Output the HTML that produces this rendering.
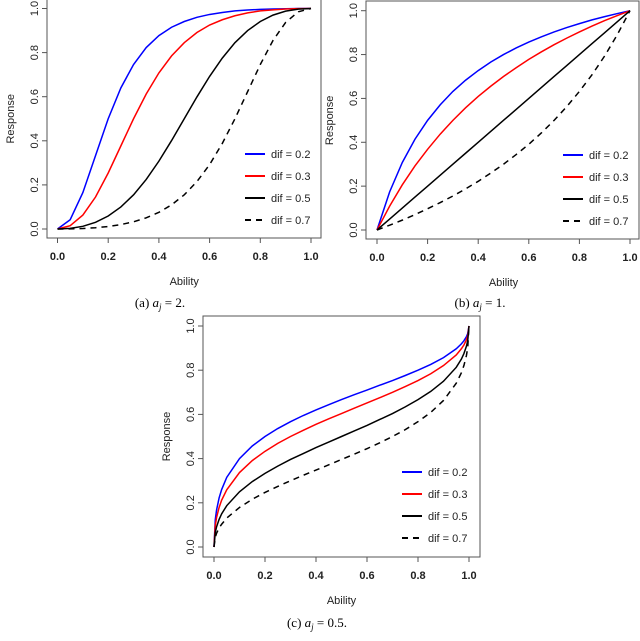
<!DOCTYPE html>
<html><head><meta charset="utf-8"><style>
body{margin:0;background:#fff;width:640px;height:641px;overflow:hidden}
svg{position:absolute;left:0;top:0}
text{font-family:"Liberation Sans",sans-serif}
.cap{font-family:"Liberation Serif",serif;font-size:13px}
</style></head><body>
<svg id="chart" width="640" height="641"></svg>
<script>
const difLabels=["dif = 0.2","dif = 0.3","dif = 0.5","dif = 0.7"];
const tickLabels=["0.0","0.2","0.4","0.6","0.8","1.0"];
const xGridAB=[0,0.05,0.1,0.15,0.2,0.25,0.3,0.35,0.4,0.45,0.5,0.55,0.6,0.65,0.7,0.75,0.8,0.85,0.9,0.95,1];
const xGridC=[0,0.005,0.01,0.02,0.03,0.05,0.1,0.15,0.2,0.25,0.3,0.35,0.4,0.45,0.5,0.55,0.6,0.65,0.7,0.75,0.8,0.85,0.9,0.95,0.97,0.98,0.99,0.995,1];
// panel a (a_j = 2)
const a_dif02=[0,0.042,0.165,0.333,0.5,0.64,0.746,0.823,0.877,0.915,0.941,0.96,0.973,0.982,0.989,0.993,0.996,0.998,0.999,1,1];
const a_dif03=[0,0.0149,0.063,0.145,0.254,0.377,0.5,0.612,0.708,0.785,0.845,0.891,0.925,0.949,0.967,0.98,0.989,0.994,0.998,0.9995,1];
const a_dif05=[0,0.00276,0.0122,0.0302,0.0588,0.1,0.155,0.2248,0.3077,0.401,0.5,0.599,0.692,0.775,0.845,0.9,0.941,0.97,0.988,0.997,1];
const a_dif07=[0,0.0005,0.0023,0.0057,0.0113,0.02,0.0326,0.0506,0.0755,0.1095,0.155,0.215,0.292,0.388,0.5,0.623,0.746,0.855,0.937,0.985,1];
// panel b (a_j = 1)
const b_dif02=[0,0.174,0.308,0.414,0.5,0.571,0.632,0.683,0.727,0.766,0.8,0.83,0.857,0.881,0.903,0.923,0.941,0.958,0.973,0.987,1];
const b_dif03=[0,0.109,0.206,0.292,0.368,0.4375,0.5,0.557,0.609,0.656,0.7,0.74,0.778,0.8125,0.845,0.875,0.903,0.93,0.955,0.978,1];
const b_dif05=[0,0.05,0.1,0.15,0.2,0.25,0.3,0.35,0.4,0.45,0.5,0.55,0.6,0.65,0.7,0.75,0.8,0.85,0.9,0.95,1];
const b_dif07=[0,0.022,0.045,0.07,0.097,0.125,0.155,0.1875,0.222,0.26,0.3,0.344,0.391,0.443,0.5,0.5625,0.632,0.708,0.794,0.891,1];
// panel c (a_j = 0.5)
const c_dif02=[0,0.124,0.167,0.222,0.26,0.315,0.4,0.457,0.5,0.536,0.567,0.595,0.62,0.644,0.667,0.689,0.71,0.732,0.753,0.776,0.8,0.826,0.857,0.897,0.919,0.933,0.952,0.966,1];
const c_dif03=[0,0.098,0.133,0.179,0.212,0.259,0.337,0.391,0.433,0.469,0.5,0.528,0.555,0.58,0.604,0.628,0.652,0.6755,0.7,0.726,0.753,0.784,0.821,0.869,0.897,0.914,0.938,0.956,1];
const c_dif05=[0,0.066,0.091,0.125,0.15,0.187,0.25,0.296,0.333,0.366,0.396,0.423,0.45,0.475,0.5,0.525,0.55,0.577,0.604,0.634,0.667,0.704,0.75,0.813,0.85,0.875,0.909,0.934,1];
const c_dif07=[0,0.044,0.062,0.086,0.103,0.131,0.179,0.216,0.247,0.274,0.3,0.3245,0.348,0.372,0.396,0.42,0.445,0.4715,0.5,0.531,0.567,0.609,0.663,0.741,0.788,0.821,0.867,0.902,1];

const NS="http://www.w3.org/2000/svg";
const svg=document.getElementById('chart');
function mk(tag,attrs,parent){const e=document.createElementNS(NS,tag);for(const k in attrs)e.setAttribute(k,attrs[k]);(parent||svg).appendChild(e);return e;}
const colors=["#0000ff","#ff0000","#000000","#000000"];
const dashes=["","","","6,5"];

function panel(p){
  const g=mk('g',{});
  
  
  const sx=v=>p.x0+(p.x1-p.x0)*v, sy=v=>p.y0+(p.y1-p.y0)*v;
  const box=mk('rect',{x:p.bl,y:p.bt,width:p.br-p.bl,height:p.bb-p.bt,fill:'none',stroke:'#555','stroke-width':1},g);
  
  
  tickLabels.forEach((t,i)=>{
    const v=i/5;
    mk('line',{x1:sx(v),x2:sx(v),y1:p.bb,y2:p.bb+5,stroke:'#555'},g);
    const xt=mk('text',{x:sx(v),y:p.bb+22,'font-size':11,'font-weight':'bold','text-anchor':'middle',fill:'#222'},g);
    xt.textContent=t;
    
    
    mk('line',{x1:p.bl-5,x2:p.bl,y1:sy(v),y2:sy(v),stroke:'#555'},g);
    const yt=mk('text',{x:0,y:0,'font-size':11,'text-anchor':'middle',fill:'#222',transform:`translate(${p.bl-9},${sy(v)}) rotate(-90)`},g);
    yt.textContent=t;
    
    
  });
  const xl=mk('text',{x:(p.x0+p.x1)/2,y:p.bb+47,'font-size':11,'text-anchor':'middle',fill:'#222'},g);
  xl.textContent='Ability';
  
  
  const yl=mk('text',{x:0,y:0,'font-size':11,'text-anchor':'middle',fill:'#222',transform:`translate(${p.bl-33},${(p.y0+p.y1)/2}) rotate(-90)`},g);
  yl.textContent='Response';
  
  
  p.series.forEach((s,i)=>{
    const d=p.xs.map((x,j)=>(j?'L':'M')+sx(x).toFixed(2)+','+sy(s[j]).toFixed(2)).join('');
    const path=mk('path',{d:d,fill:'none',stroke:colors[i],'stroke-width':1.5,'stroke-dasharray':dashes[i]},g);
    
    
    const ly=p.ly+i*p.ld;
    const ll=mk('line',{x1:p.lx,x2:p.lx+20,y1:ly,y2:ly,stroke:colors[i],'stroke-width':2,'stroke-dasharray':dashes[i]},g);
    
    
    const lt=mk('text',{x:p.lx+26,y:ly+4,'font-size':11,fill:'#222'},g);
    lt.textContent=difLabels[i];
    
    
  });
  const cap=mk('text',{x:p.cx,y:p.cy,'text-anchor':'middle',class:'cap',fill:'#000'},g);
  cap.innerHTML=p.cap;
  
  
}
panel({id:'panel-a',bl:47,bt:-1,br:321,bb:238,x0:57.5,x1:311,y0:229,y1:8.5,xs:xGridAB,series:[a_dif02,a_dif03,a_dif05,a_dif07],lx:245,ly:154,ld:22,cx:160,cy:307,cap:'(a) <tspan font-style="italic">a</tspan><tspan font-style="italic" font-size="9" dy="3">j</tspan><tspan dy="-3"> = 2.</tspan>'});
panel({id:'panel-b',bl:366,bt:1,br:639,bb:239,x0:377,x1:630,y0:230,y1:10.7,xs:xGridAB,series:[b_dif02,b_dif03,b_dif05,b_dif07],lx:563,ly:155,ld:22,cx:480,cy:307,cap:'(b) <tspan font-style="italic">a</tspan><tspan font-style="italic" font-size="9" dy="3">j</tspan><tspan dy="-3"> = 1.</tspan>'});
panel({id:'panel-c',bl:203,bt:316,br:480,bb:557,x0:214,x1:469,y0:547,y1:326,xs:xGridC,series:[c_dif02,c_dif03,c_dif05,c_dif07],lx:402,ly:472,ld:22,cx:317,cy:627,cap:'(c) <tspan font-style="italic">a</tspan><tspan font-style="italic" font-size="9" dy="3">j</tspan><tspan dy="-3"> = 0.5.</tspan>'});
</script>
</body></html>
